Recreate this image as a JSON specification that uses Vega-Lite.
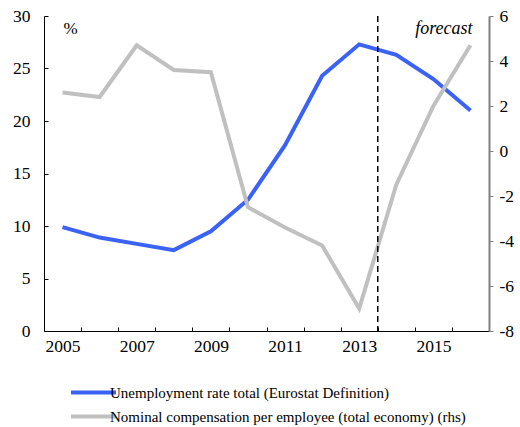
{
  "$schema": "https://vega.github.io/schema/vega-lite/v6.json",
  "autosize": "none",
  "width": 445,
  "height": 315,
  "padding": {"left": 44, "top": 16, "right": 31, "bottom": 96},
  "config": {
    "view": {"stroke": null},
    "font": "Liberation Serif",
    "axis": {"labelFont": "Liberation Serif", "labelFontSize": 17.5, "labelColor": "#000", "grid": false, "title": null}
  },
  "datasets": {
    "main": [
      {"year": 2005, "series": "Unemployment rate total (Eurostat Definition)", "value": 9.9},
      {"year": 2006, "series": "Unemployment rate total (Eurostat Definition)", "value": 8.9},
      {"year": 2007, "series": "Unemployment rate total (Eurostat Definition)", "value": 8.3},
      {"year": 2008, "series": "Unemployment rate total (Eurostat Definition)", "value": 7.7},
      {"year": 2009, "series": "Unemployment rate total (Eurostat Definition)", "value": 9.5},
      {"year": 2010, "series": "Unemployment rate total (Eurostat Definition)", "value": 12.5},
      {"year": 2011, "series": "Unemployment rate total (Eurostat Definition)", "value": 17.7},
      {"year": 2012, "series": "Unemployment rate total (Eurostat Definition)", "value": 24.3},
      {"year": 2013, "series": "Unemployment rate total (Eurostat Definition)", "value": 27.3},
      {"year": 2014, "series": "Unemployment rate total (Eurostat Definition)", "value": 26.3},
      {"year": 2015, "series": "Unemployment rate total (Eurostat Definition)", "value": 24.0},
      {"year": 2016, "series": "Unemployment rate total (Eurostat Definition)", "value": 21.0},
      {"year": 2005, "series": "Nominal compensation per employee (total economy) (rhs)", "value": 2.6},
      {"year": 2006, "series": "Nominal compensation per employee (total economy) (rhs)", "value": 2.4},
      {"year": 2007, "series": "Nominal compensation per employee (total economy) (rhs)", "value": 4.7},
      {"year": 2008, "series": "Nominal compensation per employee (total economy) (rhs)", "value": 3.6},
      {"year": 2009, "series": "Nominal compensation per employee (total economy) (rhs)", "value": 3.5},
      {"year": 2010, "series": "Nominal compensation per employee (total economy) (rhs)", "value": -2.5},
      {"year": 2011, "series": "Nominal compensation per employee (total economy) (rhs)", "value": -3.4},
      {"year": 2012, "series": "Nominal compensation per employee (total economy) (rhs)", "value": -4.2},
      {"year": 2013, "series": "Nominal compensation per employee (total economy) (rhs)", "value": -7.0},
      {"year": 2014, "series": "Nominal compensation per employee (total economy) (rhs)", "value": -1.5},
      {"year": 2015, "series": "Nominal compensation per employee (total economy) (rhs)", "value": 2.0},
      {"year": 2016, "series": "Nominal compensation per employee (total economy) (rhs)", "value": 4.7}
    ],
    "pct": [{"year": 2005, "value": 28.8, "label": "%"}],
    "fc": [{"year": 2016, "value": 28.8, "label": "forecast"}],
    "marker": [{"year": 2014}]
  },
  "encoding": {
    "x": {
      "field": "year", "type": "ordinal",
      "scale": {"type": "band", "domain": [2005,2006,2007,2008,2009,2010,2011,2012,2013,2014,2015,2016], "paddingInner": 0, "paddingOuter": 0},
      "axis": {
        "labelAngle": 0, "tickBand": "extent", "tickSize": -4, "tickColor": "#000", "domainColor": "#000",
        "labelPadding": 10,
        "labelExpr": "datum.value % 2 == 1 ? datum.label : ''"
      }
    }
  },
  "layer": [
    {
      "data": {"name": "main"},
      "transform": [{"filter": "datum.series == 'Unemployment rate total (Eurostat Definition)'"}],
      "mark": {"type": "line", "strokeWidth": 4},
      "encoding": {
        "y": {"field": "value", "type": "quantitative", "scale": {"domain": [0, 30]},
          "axis": {"orient": "left", "values": [0,5,10,15,20,25,30], "tickSize": -4, "tickColor": "#000", "domainColor": "#000", "labelPadding": 18}},
        "color": {"field": "series", "type": "nominal",
          "scale": {"domain": ["Unemployment rate total (Eurostat Definition)", "Nominal compensation per employee (total economy) (rhs)"], "range": ["#3a62f5", "#c0c0c0"]},
          "legend": {
            "orient": "none", "legendX": 36, "legendY": 363, "title": null,
            "symbolType": "M-2,0H2", "symbolSize": 506, "symbolStrokeWidth": 4,
            "labelFont": "Liberation Serif", "labelFontSize": 15, "labelColor": "#000", "labelLimit": 0,
            "rowPadding": 2, "labelOffset": 3
          }
        }
      }
    },
    {
      "data": {"name": "main"},
      "transform": [{"filter": "datum.series == 'Nominal compensation per employee (total economy) (rhs)'"}],
      "mark": {"type": "line", "strokeWidth": 4},
      "encoding": {
        "y": {"field": "value", "type": "quantitative", "scale": {"domain": [-8, 6]},
          "axis": {"orient": "right", "values": [-8,-6,-4,-2,0,2,4,6], "tickSize": 4, "tickColor": "#808080", "domainColor": "#808080", "domainWidth": 2, "labelPadding": 6,
            "labelExpr": "datum.value + ''"}},
        "color": {"field": "series", "type": "nominal"}
      }
    },
    {
      "data": {"name": "marker"},
      "mark": {"type": "rule", "strokeDash": [6, 4], "strokeWidth": 1.5, "color": "#000"},
      "encoding": {"x": {"field": "year", "type": "ordinal", "bandPosition": 0}}
    },
    {
      "data": {"name": "pct"},
      "mark": {"type": "text", "fontSize": 17, "font": "Liberation Serif", "color": "#000", "baseline": "middle", "align": "center", "dx": 8},
      "encoding": {
        "y": {"field": "value", "type": "quantitative", "scale": {"domain": [0, 30]}, "axis": null},
        "text": {"field": "label"}
      }
    },
    {
      "data": {"name": "fc"},
      "mark": {"type": "text", "fontSize": 18, "font": "Liberation Serif", "fontStyle": "italic", "color": "#000", "baseline": "middle", "align": "right", "dx": 2},
      "encoding": {
        "y": {"field": "value", "type": "quantitative", "scale": {"domain": [0, 30]}, "axis": null},
        "text": {"field": "label"}
      }
    }
  ],
  "resolve": {"scale": {"y": "independent"}}
}
